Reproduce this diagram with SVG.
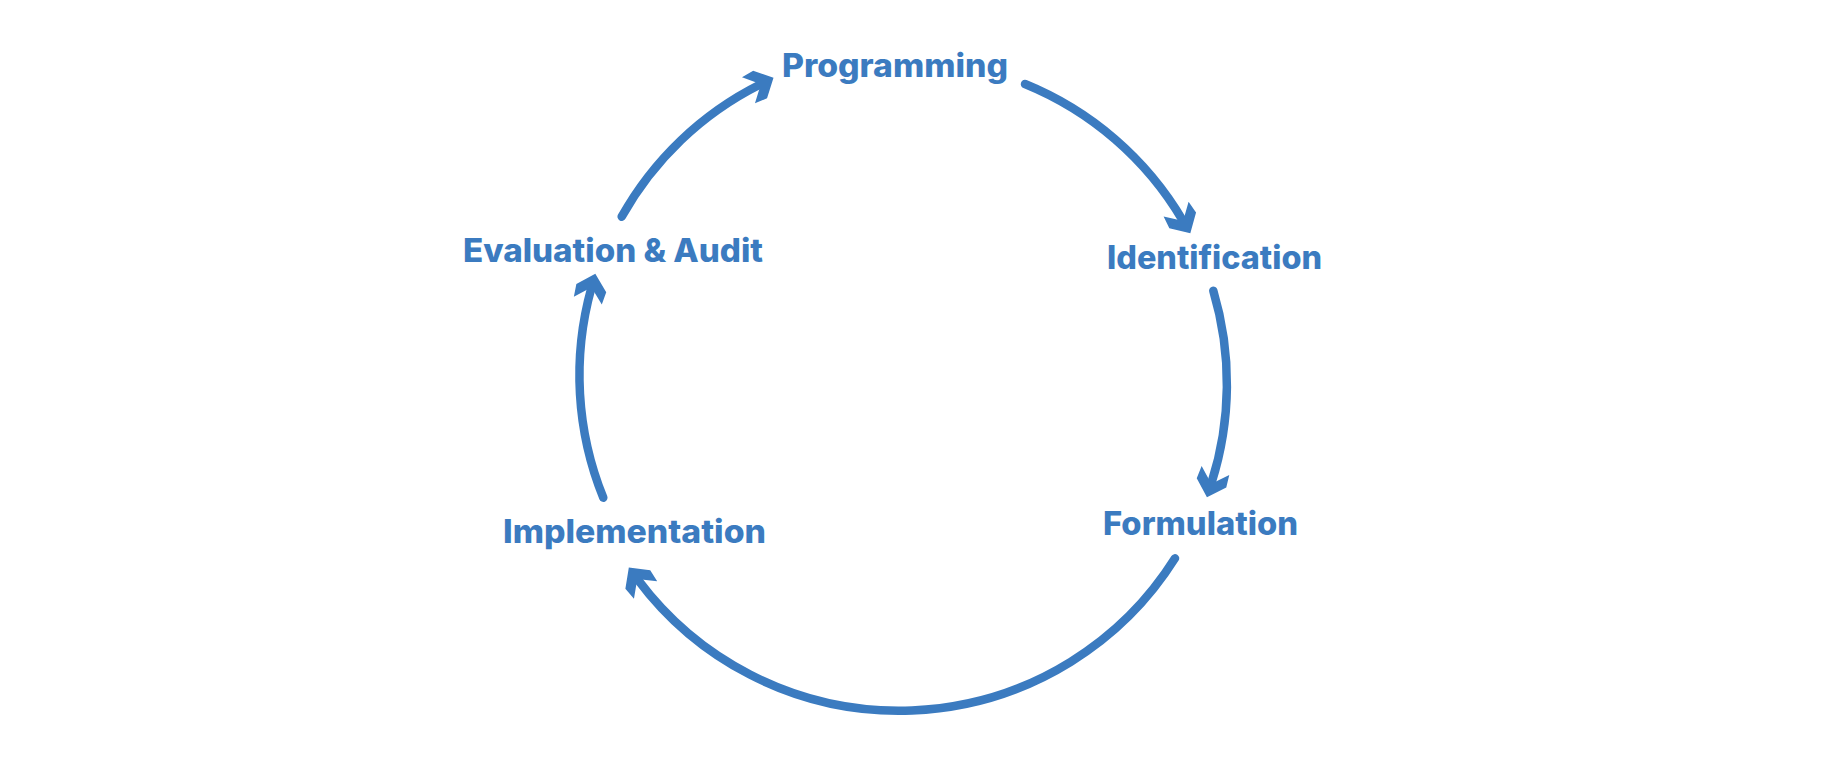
<svg xmlns="http://www.w3.org/2000/svg" width="1841" height="767" viewBox="0 0 1841 767">
<style>
.lbl{font-family:Inter,"Open Sans","Liberation Sans",sans-serif;font-weight:800;font-size:32px;fill:#3B7BC0;}
.arc{fill:none;stroke:#3B7BC0;stroke-width:8.5;stroke-linecap:round;marker-end:url(#ah);}
</style>
<defs>
<marker id="ah" markerUnits="userSpaceOnUse" orient="auto" viewBox="-20 -20 40 40" markerWidth="40" markerHeight="40" refX="0" refY="0" overflow="visible">
<path d="M15,0 L0,-15.5 L-13,-14.5 L-2,-3 L-2,3 L-13,14.5 L0,15.5 Z" fill="#3B7BC0"/>
</marker>
</defs>
<rect width="1841" height="767" fill="#FFFFFF"/>
<g id="connectors">
<path class="arc" d="M621.7,216.7 A326,326 0 0 1 760.1,84.5"/>
<path class="arc" d="M1025,84 A326,326 0 0 1 1182.7,220.3"/>
<path class="arc" d="M1213.3,290.7 A326,326 0 0 1 1211.5,482.9"/>
<path class="arc" d="M1175,558.3 A326,326 0 0 1 637.8,579.6"/>
<path class="arc" d="M603.3,497.7 A326,326 0 0 1 591.3,288.2"/>
</g>
<g id="node-programming"><text class="lbl" x="782" y="77" textLength="226" lengthAdjust="spacingAndGlyphs">Programming</text></g>
<g id="node-identification"><text class="lbl" x="1107" y="269" textLength="215" lengthAdjust="spacingAndGlyphs">Identification</text></g>
<g id="node-formulation"><text class="lbl" x="1103" y="535" textLength="195" lengthAdjust="spacingAndGlyphs">Formulation</text></g>
<g id="node-implementation"><text class="lbl" x="503" y="543" textLength="263" lengthAdjust="spacingAndGlyphs">Implementation</text></g>
<g id="node-evaluation"><text class="lbl" x="463" y="262" textLength="300" lengthAdjust="spacingAndGlyphs">Evaluation &amp; Audit</text></g>
</svg>
